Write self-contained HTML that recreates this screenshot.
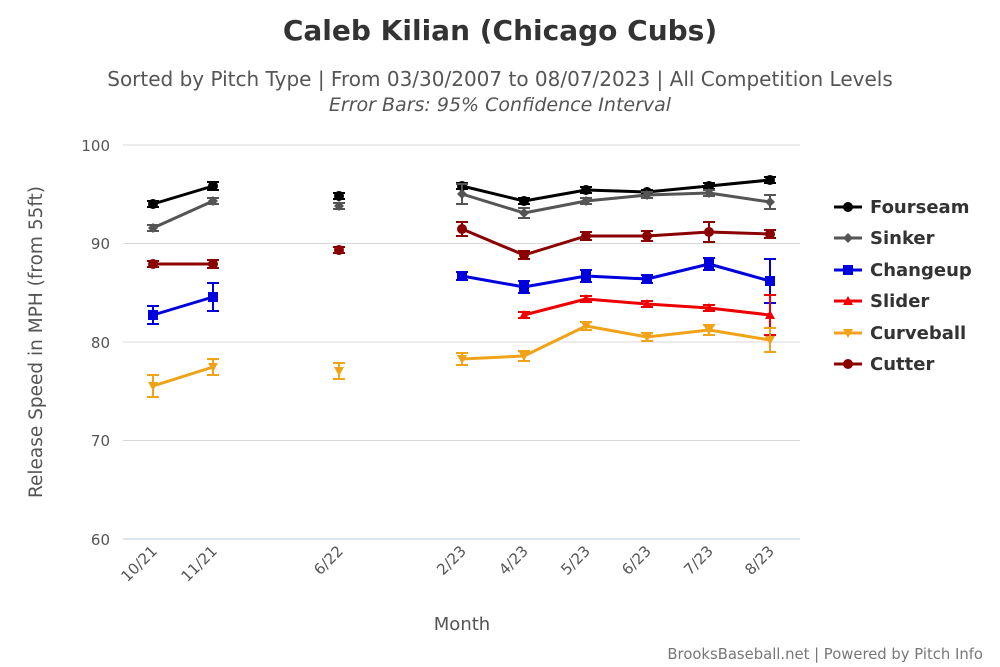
<!DOCTYPE html><html><head><style>body{margin:0;background:#fff}svg{display:block}text{font-family:"DejaVu Sans","Liberation Sans",sans-serif}</style></head><body>
<svg id="s" width="1000" height="667" xmlns="http://www.w3.org/2000/svg">
<text x="500" y="40" text-anchor="middle" font-size="28" font-weight="bold" fill="#333">Caleb Kilian (Chicago Cubs)</text>
<text x="500" y="86" text-anchor="middle" font-size="20" fill="#555">Sorted by Pitch Type | From 03/30/2007 to 08/07/2023 | All Competition Levels</text>
<text x="500" y="111" text-anchor="middle" font-size="19" font-style="italic" fill="#555">Error Bars: 95% Confidence Interval</text>
<g stroke="#d8d8d8" stroke-width="1"><line x1="123" x2="800" y1="145" y2="145"/><line x1="123" x2="800" y1="243.5" y2="243.5"/><line x1="123" x2="800" y1="342" y2="342"/><line x1="123" x2="800" y1="440.5" y2="440.5"/></g>
<line x1="123" x2="800" y1="539" y2="539" stroke="#b8c8d8"/>
<g font-size="15" fill="#555" text-anchor="end"><text x="110" y="151">100</text><text x="110" y="249">90</text><text x="110" y="348">80</text><text x="110" y="446">70</text><text x="110" y="545">60</text></g>
<text transform="translate(42,342) rotate(-90)" text-anchor="middle" font-size="18.5" fill="#555">Release Speed in MPH (from 55ft)</text>
<g font-size="15" fill="#555" text-anchor="end">
<text transform="translate(158,552) rotate(-45)">10/21</text><text transform="translate(218,552) rotate(-45)">11/21</text><text transform="translate(344,552) rotate(-45)">6/22</text><text transform="translate(467,552) rotate(-45)">2/23</text><text transform="translate(529,552) rotate(-45)">4/23</text><text transform="translate(591,552) rotate(-45)">5/23</text><text transform="translate(652,552) rotate(-45)">6/23</text><text transform="translate(714,552) rotate(-45)">7/23</text><text transform="translate(775,552) rotate(-45)">8/23</text></g>
<text x="462" y="630" text-anchor="middle" font-size="18" fill="#555">Month</text>
<text x="983" y="659" text-anchor="end" font-size="14.8" fill="#777">BrooksBaseball.net | Powered by Pitch Info</text>
<g font-size="18" font-weight="bold" fill="#333">
<text x="870" y="213">Fourseam</text><text x="870" y="244">Sinker</text><text x="870" y="276">Changeup</text><text x="870" y="307">Slider</text><text x="870" y="339">Curveball</text><text x="870" y="370">Cutter</text></g>
<g id="d"></g>
</svg>
<script>
var X=[153,213,339,462,524,586,647,709,770];
var S=[
["#000","c",[204,186,196,186,201,190,192,186,180],[3,4,3,3,3,3,2,3,3],207],
["#555","d",[228,201,206,194,213,201,195,193,202],[3,3,3,10,5,3,3,3,7],238],
["#0000dd","s",[315,297,null,276,287,276,279,264,281],[9,14,0,4,6,6,4,6,22],270],
["#e00","t",[null,null,null,null,315,299,304,308,315],[0,0,0,0,3,3,3,3,20],301],
["#f0a318","v",[386,367,371,359,356,326,337,330,340],[11,8,8,6,5,4,4,5,12],333],
["#8b0000","c",[264,264,250,229,255,236,236,232,234],[3,4,3,7,4,4,5,10,4],364]];
var g=document.getElementById('d'),h='';
function mk(c,t,x,y,r){r=r||5;if(t=='c')return '<circle cx="'+x+'" cy="'+y+'" r="'+r+'" fill="'+c+'"/>';
if(t=='s')return '<rect x="'+(x-r)+'" y="'+(y-r)+'" width="'+2*r+'" height="'+2*r+'" fill="'+c+'"/>';
if(t=='d')return '<polygon points="'+x+','+(y-r)+' '+(x+r)+','+y+' '+x+','+(y+r)+' '+(x-r)+','+y+'" fill="'+c+'"/>';
if(t=='t')return '<polygon points="'+x+','+(y-r)+' '+(x+r)+','+(y+r-1)+' '+(x-r)+','+(y+r-1)+'" fill="'+c+'"/>';
return '<polygon points="'+x+','+(y+r)+' '+(x+r)+','+(y-r+1)+' '+(x-r)+','+(y-r+1)+'" fill="'+c+'"/>';}
S.forEach(function(s){var c=s[0],Y=s[2],E=s[3];
var segs=[[0,1],[3,4],[4,5],[5,6],[6,7],[7,8]];
segs.forEach(function(p){if(Y[p[0]]!=null&&Y[p[1]]!=null)h+='<line x1="'+X[p[0]]+'" y1="'+Y[p[0]]+'" x2="'+X[p[1]]+'" y2="'+Y[p[1]]+'" stroke="'+c+'" stroke-width="3"/>';});
Y.forEach(function(y,i){if(y==null)return;var e=E[i],x=X[i];
h+='<g stroke="'+c+'" stroke-width="2"><line x1="'+x+'" x2="'+x+'" y1="'+(y-e)+'" y2="'+(y+e)+'"/><line x1="'+(x-6)+'" x2="'+(x+6)+'" y1="'+(y-e)+'" y2="'+(y-e)+'"/><line x1="'+(x-6)+'" x2="'+(x+6)+'" y1="'+(y+e)+'" y2="'+(y+e)+'"/></g>';
h+=mk(c,s[1],x,y);});
h+='<line x1="834" x2="862" y1="'+s[4]+'" y2="'+s[4]+'" stroke="'+c+'" stroke-width="3"/>'+mk(c,s[1],848,s[4]);});
g.innerHTML=h;
</script></body></html>
